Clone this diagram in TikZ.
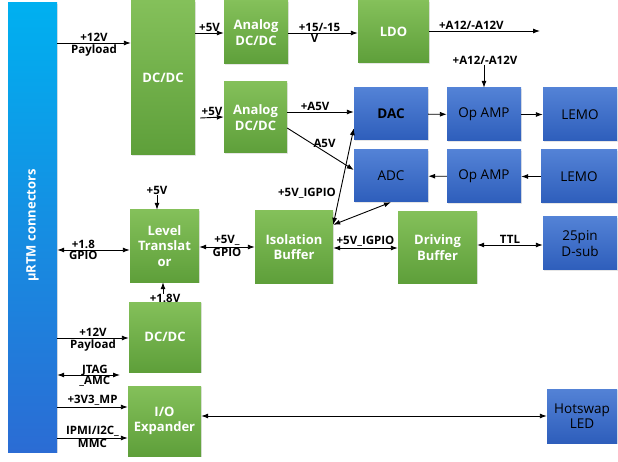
\documentclass[tikz,border=0pt]{standalone}
\usepackage{fontspec}
\setmainfont{Open Sans}
\usetikzlibrary{arrows.meta,positioning,shadows}

\definecolor{gtop}{HTML}{84C05A}
\definecolor{gbot}{HTML}{5E9F3A}
\definecolor{btop}{HTML}{5382D6}
\definecolor{bbot}{HTML}{2E5EBB}
\definecolor{bartop}{HTML}{00B0F0}
\definecolor{barbot}{HTML}{2B6CD4}

\tikzset{
  gbox/.style={top color=gtop, bottom color=gbot, text=white, align=center,
    font=\fontsize{13}{15.5}\selectfont\bfseries, inner sep=0pt,
    drop shadow={opacity=0.2, shadow xshift=1pt, shadow yshift=-1pt}},
  bbox/.style={top color=btop, bottom color=bbot, text=black, align=center,
    font=\fontsize{13.5}{15.5}\selectfont, inner sep=0pt,
    drop shadow={opacity=0.2, shadow xshift=1pt, shadow yshift=-1pt}},
  lbl/.style={font=\fontsize{11.5}{12}\selectfont\bfseries, inner sep=1pt, align=center},
  arr/.style={-{Latex[length=7pt,width=5pt]}, line width=0.9pt},
  darr/.style={{Latex[length=7pt,width=5pt]}-{Latex[length=7pt,width=5pt]}, line width=0.9pt},
}

\begin{document}
\begin{tikzpicture}[x=1pt,y=-1pt]
  \useasboundingbox (0,0) rectangle (618,462);

  % connector bar
  \node[top color=bartop, bottom color=barbot, minimum width=49pt, minimum height=449pt,
    inner sep=0pt, drop shadow={opacity=0.2, shadow xshift=1pt, shadow yshift=-1pt}]
    (bar) at (32.5,227.5) {};
  \node[rotate=90, text=white, font=\fontsize{13}{15}\selectfont\bfseries] (barlbl)
    at ([yshift=2pt]bar.center) {μRTM connectors};

  % power
  \node[gbox, minimum width=64pt, minimum height=154pt] (dcdc) at (163,78) {DC/DC};
  \node[gbox, minimum width=64pt, minimum height=63pt] (ana1) at (256,32.5) {Analog\\DC/DC};
  \node[gbox, minimum width=63pt, minimum height=71pt] (ana2) at (255.5,117.5) {Analog\\DC/DC};
  \node[gbox, minimum width=71pt, minimum height=62pt] (ldo) at (393.5,32) {LDO};

  % analog chain
  \node[bbox, minimum width=74pt, minimum height=52pt, font=\fontsize{13.5}{15.5}\selectfont\bfseries] (dac) at (391,114) {DAC};
  \node[bbox, minimum width=74pt, minimum height=53pt] (opa1) at (484,114.5) {Op AMP};
  \node[bbox, minimum width=74pt, minimum height=53pt] (lemo1) at (580,114.5) {LEMO};
  \node[bbox, minimum width=74pt, minimum height=52pt] (adc) at (391,176) {ADC};
  \node[bbox, minimum width=74pt, minimum height=53pt] (opa2) at (484,176.5) {Op AMP};
  \node[bbox, minimum width=76pt, minimum height=53pt] (lemo2) at (579,176.5) {LEMO};

  % gpio
  \node[gbox, minimum width=69pt, minimum height=72pt] (lvl) at (164.5,246) {Level\\Translat\\or};
  \node[gbox, minimum width=78pt, minimum height=72pt] (iso) at (294,247) {Isolation\\Buffer};
  \node[gbox, minimum width=79pt, minimum height=71pt] (drv) at (437.5,247.5) {Driving\\Buffer};
  \node[bbox, minimum width=74pt, minimum height=53pt] (dsub) at (580,243.5) {25pin\\D-sub};

  % management
  \node[gbox, minimum width=72pt, minimum height=70pt] (dcdc2) at (165,337) {DC/DC};
  \node[gbox, minimum width=73pt, minimum height=70pt] (ioexp) at (164.5,421) {I/O\\Expander};
  \node[bbox, minimum width=70pt, minimum height=54pt] (hsled) at (582,416) {Hotswap\\LED};

  % free labels and ends
  \node[lbl] (avin) at (485,60) {+A12/-A12V};
  \node[lbl] (igpio) at (307,193) {+5V\_IGPIO};
  \node[lbl] (v5) at (157,190) {+5V};
  \node[lbl] (v18) at (165,298) {+1.8V};
  \coordinate (aout) at (540,31);
  \coordinate (jtagend) at (120,375);

  % power connectors
  \draw[arr] (bar.east |- 0,43) -- (dcdc.west |- 0,43)
    node[lbl, midway, above]{+12V} node[lbl, midway, below]{Payload};
  \draw[arr] (dcdc.east |- 0,33) -- (ana1.west |- 0,33) node[lbl, midway, above]{+5V};
  \draw[arr] ([xshift=5pt]dcdc.east |- 0,118) -- (ana2.west |- 0,117) node[lbl, midway, above]{+5V};
  \draw[arr] (ana1.east |- 0,33) -- (ldo.west |- 0,33)
    node[lbl, pos=0.45, above]{+15/-15} node[lbl, pos=0.38, below]{V};
  \draw[arr] (ldo.east |- aout) -- (aout) node[lbl, pos=0.38, above]{+A12/-A12V};
  \draw[arr] (avin.south -| opa1.north) -- (opa1.north);
  \draw[arr] (ana2.east |- 0,112) -- (dac.west |- 0,112) node[lbl, pos=0.42, above]{+A5V};
  \draw[arr] (ana2.east |- 0,128) -- (adc.west |- 0,170) node[lbl, midway, xshift=4pt, yshift=6pt]{A5V};

  % analog connectors
  \draw[arr] (dac) -- (opa1);
  \draw[arr] (opa1) -- (lemo1);
  \draw[arr] (opa2) -- (adc);
  \draw[arr] (lemo2.west |- opa2.east) -- (opa2);

  % gpio connectors
  \draw[darr] ([yshift=-14pt]iso.north east) -- ([yshift=12pt]dac.south west);
  \draw[darr] ([yshift=-14pt]iso.north east) -- (adc.south);
  \draw[darr] (bar.east |- 0,250) -- (lvl.west |- 0,250)
    node[lbl, pos=0.36, above]{+1.8} node[lbl, pos=0.36, below]{GPIO};
  \draw[darr] (lvl.east |- 0,247) -- (iso.west |- 0,247)
    node[lbl, midway, above]{+5V\_} node[lbl, midway, below]{GPIO};
  \draw[arr] (v5) -- (v5 |- lvl.north);
  \draw[arr] ([yshift=-1pt]v18.north -| 163,0) -- (lvl.south -| 163,0);
  \draw[darr] (iso.east |- 0,248) -- (drv.west |- 0,248) node[lbl, midway, above]{+5V\_IGPIO};
  \draw[darr] (drv.east |- 0,245) -- (dsub.west |- 0,245) node[lbl, midway, above]{TTL};

  % management connectors
  \draw[arr] (bar.east |- 0,338) -- (dcdc2.west |- 0,338)
    node[lbl, midway, above]{+12V} node[lbl, midway, below]{Payload};
  \draw[darr] (bar.east |- jtagend) -- (jtagend)
    node[lbl, pos=0.6, above=-2pt]{JTAG} node[lbl, pos=0.6, below]{\_AMC};
  \draw[arr] (bar.east |- 0,407) -- (ioexp.west |- 0,407) node[lbl, midway, above]{+3V3\_MP};
  \draw[arr] (bar.east |- 0,438) -- (ioexp.west |- 0,438)
    node[lbl, midway, above]{IPMI/I2C\_} node[lbl, midway, below]{MMC};
  \draw[darr] (ioexp.east |- hsled.west) -- (hsled.west);
\end{tikzpicture}
\end{document}
